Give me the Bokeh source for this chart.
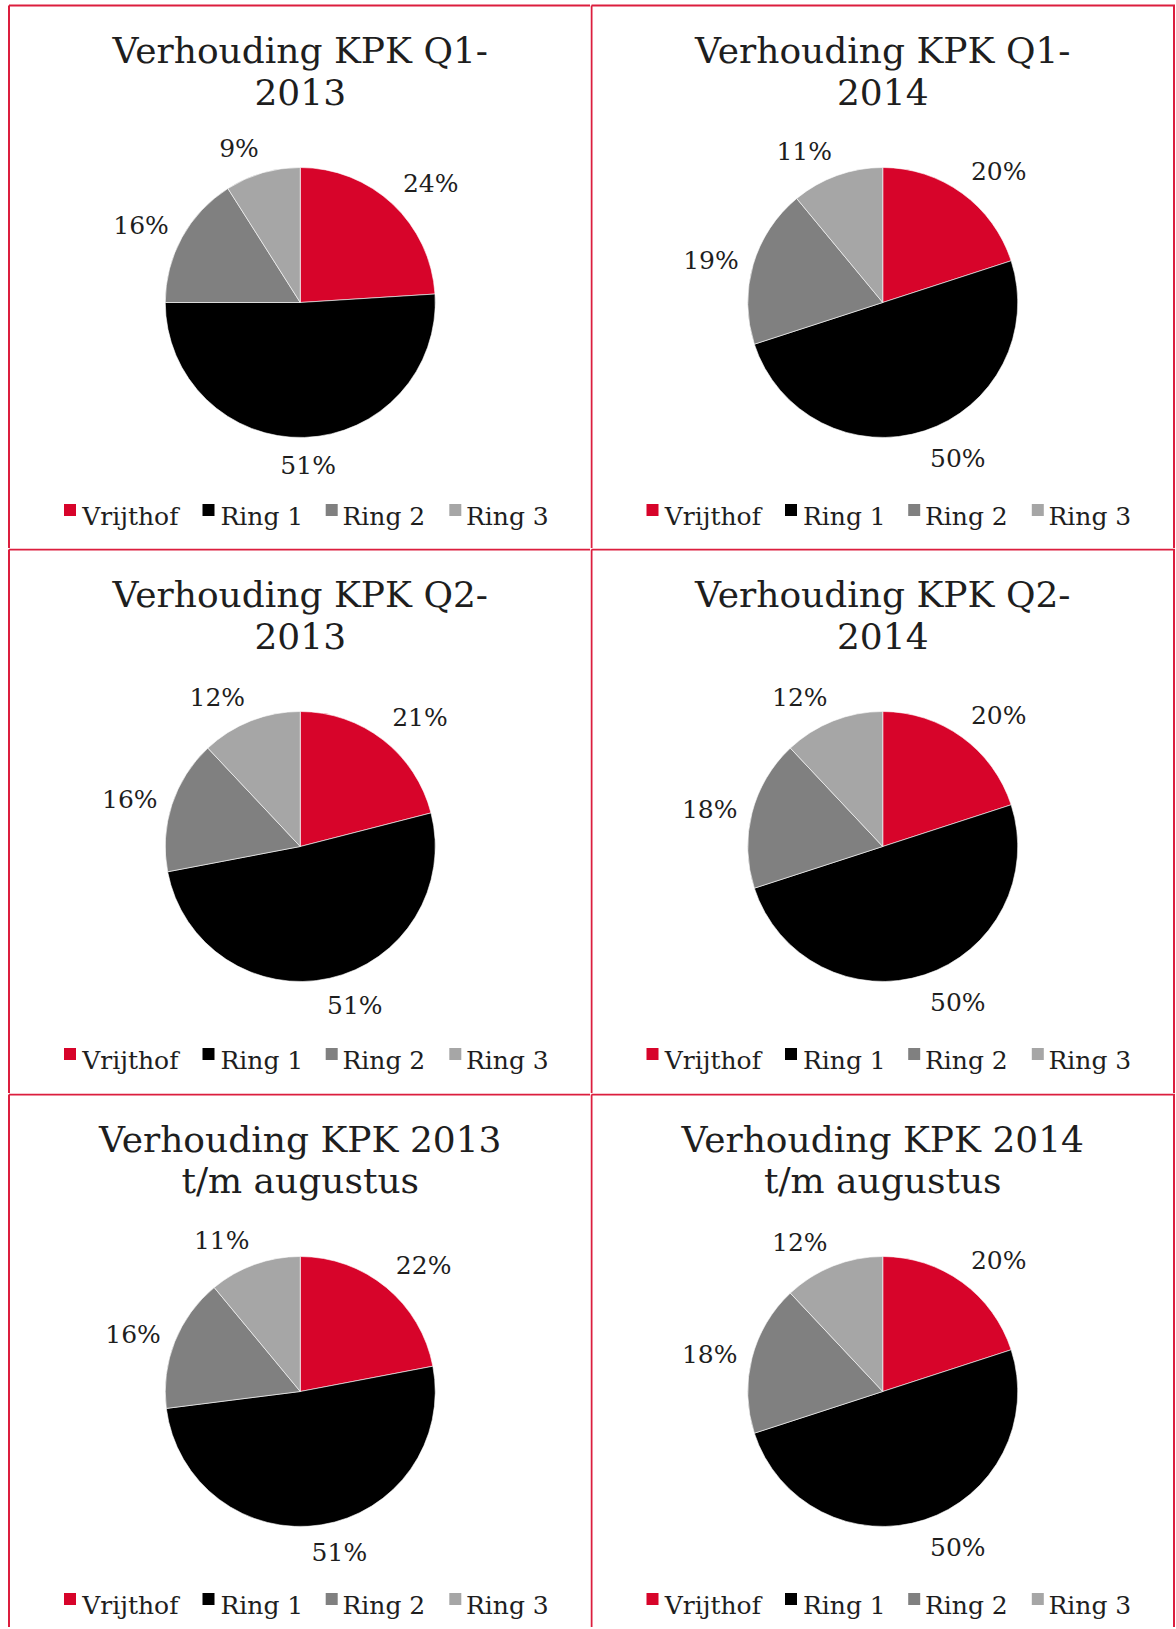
import math
from bokeh.plotting import figure
from bokeh.layouts import gridplot
from bokeh.models import ColumnDataSource, Range1d
from bokeh.embed import file_html
from bokeh.resources import INLINE
from bokeh.core.properties import value

# ---------------- data ----------------
categories = ["Vrijthof", "Ring 1", "Ring 2", "Ring 3"]

title_lines = [
    ["Verhouding KPK Q1-", "2013"],
    ["Verhouding KPK Q1-", "2014"],
    ["Verhouding KPK Q2-", "2013"],
    ["Verhouding KPK Q2-", "2014"],
    ["Verhouding KPK 2013", "t/m augustus"],
    ["Verhouding KPK 2014", "t/m augustus"],
]

q1_2013 = [24, 51, 16, 9]
q1_2014 = [20, 50, 19, 11]
q2_2013 = [21, 51, 16, 12]
q2_2014 = [20, 50, 18, 12]
aug_2013 = [22, 51, 16, 11]
aug_2014 = [20, 50, 18, 12]

series = [q1_2013, q1_2014, q2_2013, q2_2014, aug_2013, aug_2014]

# ---------------- style / layout ----------------
slice_colors = ["#D7042A", "#000000", "#808080", "#A6A6A6"]
border_color = "#DC1E3E"
text_color = "#1E1E1E"
FONT = "DejaVu Serif"

col_widths = [590, 585]
row_heights = [548, 545, 534]
box_ox = [8.5, 1.0]        # panel frame left inside each figure column
box_oy = [5.0, 1.0, 1.0]   # panel frame top inside each figure row
BOX_W = 582.5
R = 135
LABEL_PX = 25
LEGEND_PX = 25
TITLE_PX = 36

legend_sq_x = [55, 193.5, 316.7, 440.3]
legend_tx_x = [73.2, 211.5, 333.5, 457]
LEGEND_BASE = 511
LEGEND_SQ = 504.5
TITLE_BASE = [44.5, 86]


def clip(v):
    return max(-1.0, min(1.0, v))


def make_panel(idx):
    col = idx % 2
    row = idx // 2
    W = col_widths[col]
    H = row_heights[row]
    ox = box_ox[col]
    oy = box_oy[row]
    p = figure(width=W, height=H, x_range=Range1d(0, W), y_range=Range1d(0, H),
               x_axis_type=None, y_axis_type=None, toolbar_location=None,
               output_backend="svg", min_border=0, outline_line_color=None,
               background_fill_color="white", border_fill_color="white")
    p.grid.visible = False

    def Y(top):  # pixels from panel frame top -> data y
        return H - (oy + top)

    def X(left):  # pixels from panel frame left -> data x
        return ox + left

    cx, cy = X(BOX_W / 2), Y(297)
    vals = series[idx]
    total = float(sum(vals))
    starts, ends, mids = [], [], []
    acc = 0.0
    for v in vals:
        a0 = 90 - acc / total * 360
        acc += v
        a1 = 90 - acc / total * 360
        starts.append(a0)
        ends.append(a1)
        mids.append((a0 + a1) / 2)

    src = ColumnDataSource(dict(start=starts, end=ends, color=slice_colors, cat=categories))
    p.wedge(x=cx, y=cy, radius=R, start_angle="start", end_angle="end",
            start_angle_units="deg", end_angle_units="deg", direction="clock",
            fill_color="color", line_color="white", line_width=0.6, source=src)

    # data labels, placed outside end of each slice
    lx, ly, lt = [], [], []
    for v, m in zip(vals, mids):
        t = math.radians(m)
        c, s = math.cos(t), math.sin(t)
        txt = f"{v}%"
        w = (0.636 * (len(txt) - 1) + 0.95) * LABEL_PX
        h = 20
        d = R + 15 + (3 if s < -0.5 else 0)
        fx = clip(3.5 * c)
        fy = math.copysign(max(0.0, min(1.0, (abs(s) - 0.3) * 2.5)), s)
        lx.append(cx + d * c + w / 2 * fx)
        ly.append(cy + d * s + h / 2 * fy)
        lt.append(txt)
    p.text(x=lx, y=ly, text=lt, text_font=value(FONT), text_font_size=f"{LABEL_PX}px",
           text_align="center", text_baseline="middle", text_color=text_color)

    # title (two lines)
    p.text(x=[cx, cx], y=[Y(TITLE_BASE[0]), Y(TITLE_BASE[1])], text=title_lines[idx],
           text_font=value(FONT), text_font_size=f"{TITLE_PX}px", text_align="center",
           text_baseline="alphabetic", text_color=text_color)

    # legend
    p.rect(x=[X(sx) + 6 for sx in legend_sq_x], y=[Y(LEGEND_SQ)] * 4, width=12, height=12,
           fill_color=slice_colors, line_color=None)
    p.text(x=[X(tx) for tx in legend_tx_x], y=[Y(LEGEND_BASE)] * 4, text=categories,
           text_font=value(FONT), text_font_size=f"{LEGEND_PX}px", text_align="left",
           text_baseline="alphabetic", text_color=text_color)

    # panel frame lines (shared edges drawn once)
    yt = Y(0)
    p.line(x=[ox, W], y=[yt, yt], line_color=border_color, line_width=2)
    p.line(x=[max(ox, 1), max(ox, 1)], y=[0, yt], line_color=border_color, line_width=2)
    if col == 1:
        xr = ox + BOX_W
        p.line(x=[xr, xr], y=[0, yt], line_color=border_color, line_width=2)
    return p


panels = [make_panel(i) for i in range(6)]

grid = gridplot([[panels[0], panels[1]], [panels[2], panels[3]], [panels[4], panels[5]]],
                toolbar_location=None)

open("out.html", "w").write(file_html(grid, INLINE))
